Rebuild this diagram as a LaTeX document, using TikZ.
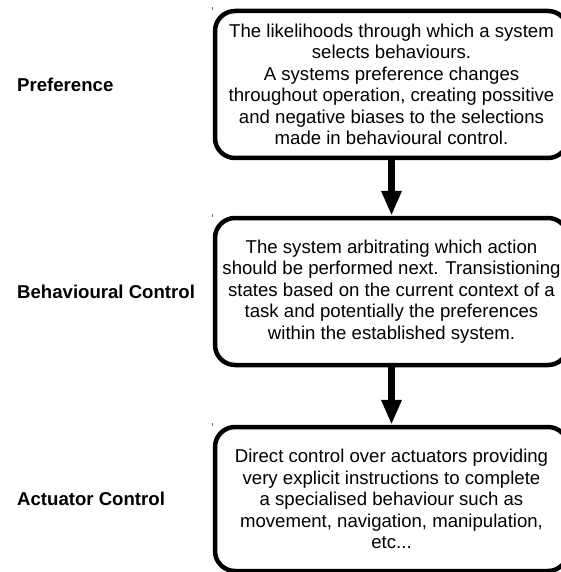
\documentclass[tikz,border=0pt]{standalone}
\usepackage{fontspec}
\setmainfont{Liberation Sans}
\usetikzlibrary{arrows.meta}
\begin{document}
\begin{tikzpicture}[x=1pt,y=-1pt,
  descbox/.style={draw=black, line width=4.5pt, rounded corners=20pt,
    minimum width=353pt, inner sep=0pt, align=center,
    font=\fontsize{18.6}{21.5}\selectfont, text=black},
  lefttag/.style={anchor=base west, inner sep=0pt,
    font=\fontsize{18.6}{21.5}\selectfont\bfseries, text=black},
  flow/.style={line width=6.5pt, -{Triangle[length=25pt,width=19pt]}},
  tickmark/.style={draw=black!55, line width=0.9pt}]
\useasboundingbox (0,0) rectangle (561,572);
\clip (0,0) rectangle (561,572);
\fill[white] (0,0) rectangle (561,572);

\node[descbox, minimum height=147pt] (b1) at (391.5,84.5)
  {The likelihoods through which a system\\
   selects behaviours.\\
   A systems preference changes\\
   throughout operation, creating possitive\\
   and negative biases to the selections\\
   made in behavioural control.};
\node[descbox, minimum height=147pt] (b2) at (391.5,291.5)
  {The system arbitrating which action\\
   should be performed next. Transistioning\\
   states based on the current context of a\\
   task and potentially the preferences\\
   within the established system.};
\node[descbox, minimum height=144pt] (b3) at (391.5,499)
  {Direct control over actuators providing\\
   very explicit instructions to complete\\
   a specialised behaviour such as\\
   movement, navigation, manipulation,\\
   etc...};

\node[lefttag] (l1) at (17,92) {Preference};
\node[lefttag] (l2) at (17,298) {Behavioural Control};
\node[lefttag] (l3) at (17,505) {Actuator Control};

\draw[flow] (b1.south) -- (b2.north);
\draw[flow] (b2.south) -- (b3.north);

\draw[tickmark] ([shift={(0,-1.5)}]b1.north west) -- ([shift={(0,1.5)}]b1.north west);
\draw[tickmark] ([shift={(0,-1.5)}]b2.north west) -- ([shift={(0,1.5)}]b2.north west);
\draw[tickmark] ([shift={(0,-1.5)}]b3.north west) -- ([shift={(0,1.5)}]b3.north west);
\end{tikzpicture}
\end{document}
